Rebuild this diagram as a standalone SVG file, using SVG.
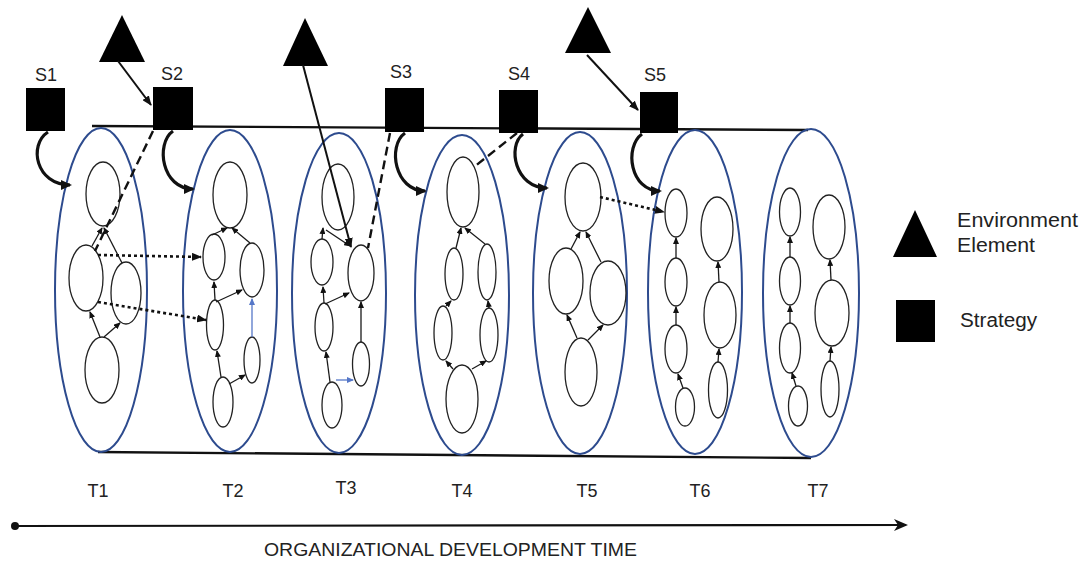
<svg xmlns="http://www.w3.org/2000/svg" width="1088" height="564" viewBox="0 0 1088 564">
  <style>
    .frame { fill: none; stroke: #2d4b8e; stroke-width: 2; }
    .node { fill: none; stroke: #222; stroke-width: 1.3; }
    .link { fill: none; stroke: #1a1a1a; stroke-width: 1.3; marker-end: url(#tip); }
    .blue { fill: none; stroke: #5577c8; stroke-width: 1.3; marker-end: url(#tipBlue); }
    .dot { fill: none; stroke: #111; stroke-width: 2.6; stroke-dasharray: 3 3; marker-end: url(#tipMid); }
    .dash { fill: none; stroke: #111; stroke-width: 2.4; stroke-dasharray: 9 5; }
    .hook { fill: none; stroke: #111; stroke-width: 3.2; marker-end: url(#tipBig); }
    .env { fill: none; stroke: #111; stroke-width: 2; marker-end: url(#tipMid); }
    .rim { fill: none; stroke: #111; stroke-width: 2.4; }
    .lbl { font-family: "Liberation Sans", Arial, sans-serif; fill: #222; }
    .blk { fill: #000; }
  </style>
  <defs>
    <marker id="tip" markerUnits="userSpaceOnUse" markerWidth="7" markerHeight="6" refX="6" refY="3" orient="auto">
      <path d="M0,0 L7,3 L0,6 z" fill="#111"/>
    </marker>
    <marker id="tipBlue" markerUnits="userSpaceOnUse" markerWidth="7" markerHeight="6" refX="6" refY="3" orient="auto">
      <path d="M0,0 L7,3 L0,6 z" fill="#5577c8"/>
    </marker>
    <marker id="tipMid" markerUnits="userSpaceOnUse" markerWidth="10" markerHeight="8" refX="9" refY="4" orient="auto">
      <path d="M0,0 L10,4 L0,8 z" fill="#111"/>
    </marker>
    <marker id="tipBig" markerUnits="userSpaceOnUse" markerWidth="11" markerHeight="10" refX="9" refY="5" orient="auto">
      <path d="M0,0 L11,5 L0,10 z" fill="#111"/>
    </marker>
    <marker id="axisTip" markerUnits="userSpaceOnUse" markerWidth="14" markerHeight="12" refX="12" refY="6" orient="auto">
      <path d="M0,0 L14,6 L0,12 L4,6 z" fill="#111"/>
    </marker>
  </defs>

  <!-- cylinder rims -->
  <g id="cylinder">
    <line class="rim" x1="92" y1="126" x2="808" y2="130"/>
    <line class="rim" x1="98" y1="452" x2="811" y2="458"/>
  </g>

  <!-- time slices -->
  <g id="T1">
    <ellipse class="frame" cx="101" cy="290" rx="46" ry="162"/>
    <ellipse class="node" cx="103" cy="194" rx="17" ry="32"/>
    <ellipse class="node" cx="86" cy="278" rx="17" ry="33"/>
    <ellipse class="node" cx="126" cy="293" rx="15" ry="31"/>
    <ellipse class="node" cx="102" cy="370" rx="17" ry="33"/>
    <text class="lbl" x="98" y="497" font-size="18" text-anchor="middle">T1</text>
  </g>
  <g id="T2">
    <ellipse class="frame" cx="230" cy="291" rx="47" ry="161"/>
    <ellipse class="node" cx="230" cy="195" rx="17" ry="33"/>
    <ellipse class="node" cx="214" cy="257" rx="11" ry="23"/>
    <ellipse class="node" cx="252" cy="270" rx="12" ry="27"/>
    <ellipse class="node" cx="215" cy="325" rx="8.5" ry="25"/>
    <ellipse class="node" cx="252" cy="360" rx="8" ry="23"/>
    <ellipse class="node" cx="223" cy="402" rx="10" ry="25"/>
    <text class="lbl" x="233" y="497" font-size="18" text-anchor="middle">T2</text>
  </g>
  <g id="T3">
    <ellipse class="frame" cx="339" cy="293" rx="47" ry="160"/>
    <ellipse class="node" cx="338" cy="197" rx="16" ry="33"/>
    <ellipse class="node" cx="322" cy="262" rx="11" ry="23"/>
    <ellipse class="node" cx="361" cy="273" rx="13" ry="28"/>
    <ellipse class="node" cx="324" cy="327" rx="9" ry="24"/>
    <ellipse class="node" cx="361" cy="364" rx="8.5" ry="22"/>
    <ellipse class="node" cx="332" cy="405" rx="10" ry="23"/>
    <text class="lbl" x="346" y="494" font-size="18" text-anchor="middle">T3</text>
  </g>
  <g id="T4">
    <ellipse class="frame" cx="462" cy="295" rx="47" ry="160"/>
    <ellipse class="node" cx="463" cy="192" rx="16" ry="35"/>
    <ellipse class="node" cx="454" cy="274" rx="9" ry="26"/>
    <ellipse class="node" cx="487" cy="272" rx="9" ry="28"/>
    <ellipse class="node" cx="443" cy="333" rx="9" ry="27"/>
    <ellipse class="node" cx="489" cy="335" rx="9" ry="27"/>
    <ellipse class="node" cx="462" cy="399" rx="16" ry="34"/>
    <text class="lbl" x="462" y="497" font-size="18" text-anchor="middle">T4</text>
  </g>
  <g id="T5">
    <ellipse class="frame" cx="580" cy="293" rx="47" ry="161"/>
    <ellipse class="node" cx="583" cy="197" rx="18" ry="34"/>
    <ellipse class="node" cx="566" cy="281" rx="17" ry="33"/>
    <ellipse class="node" cx="608" cy="293" rx="18" ry="32"/>
    <ellipse class="node" cx="581" cy="372" rx="16" ry="34"/>
    <text class="lbl" x="587" y="497" font-size="18" text-anchor="middle">T5</text>
  </g>
  <g id="T6">
    <ellipse class="frame" cx="695" cy="292" rx="47" ry="162"/>
    <ellipse class="node" cx="676" cy="213" rx="11" ry="24"/>
    <ellipse class="node" cx="676" cy="282" rx="11" ry="24"/>
    <ellipse class="node" cx="676" cy="349" rx="11" ry="24"/>
    <ellipse class="node" cx="685" cy="407" rx="9.5" ry="19"/>
    <ellipse class="node" cx="717" cy="229" rx="16" ry="32"/>
    <ellipse class="node" cx="720" cy="315" rx="16" ry="33"/>
    <ellipse class="node" cx="718" cy="390" rx="9.5" ry="28"/>
    <text class="lbl" x="700" y="497" font-size="18" text-anchor="middle">T6</text>
  </g>
  <g id="T7">
    <ellipse class="frame" cx="811" cy="293" rx="48" ry="164"/>
    <ellipse class="node" cx="790" cy="212" rx="10.5" ry="24"/>
    <ellipse class="node" cx="790" cy="281" rx="10.5" ry="24"/>
    <ellipse class="node" cx="790" cy="348" rx="10.5" ry="25"/>
    <ellipse class="node" cx="798" cy="406" rx="9.5" ry="20"/>
    <ellipse class="node" cx="829" cy="227" rx="16" ry="32"/>
    <ellipse class="node" cx="832" cy="313" rx="17" ry="33"/>
    <ellipse class="node" cx="830" cy="389" rx="9" ry="28"/>
    <text class="lbl" x="818" y="497" font-size="18" text-anchor="middle">T7</text>
  </g>

  <!-- strategies -->
  <g id="S1">
    <rect class="blk" x="26" y="88" width="39" height="43"/>
    <text class="lbl" x="46" y="81" font-size="18" text-anchor="middle">S1</text>
  </g>
  <g id="S2">
    <rect class="blk" x="153" y="87" width="40" height="43"/>
    <text class="lbl" x="172" y="80" font-size="18" text-anchor="middle">S2</text>
  </g>
  <g id="S3">
    <rect class="blk" x="385" y="88" width="39" height="44"/>
    <text class="lbl" x="401" y="78" font-size="18" text-anchor="middle">S3</text>
  </g>
  <g id="S4">
    <rect class="blk" x="499" y="90" width="39" height="43"/>
    <text class="lbl" x="519" y="80" font-size="18" text-anchor="middle">S4</text>
  </g>
  <g id="S5">
    <rect class="blk" x="640" y="92" width="38" height="41"/>
    <text class="lbl" x="655" y="81" font-size="18" text-anchor="middle">S5</text>
  </g>

  <!-- environment elements -->
  <g id="E1"><polygon class="blk" points="122,15 99,62 145,62"/></g>
  <g id="E2"><polygon class="blk" points="305,18 283,66 328,66"/></g>
  <g id="E3"><polygon class="blk" points="588,7 565,53 611,53"/></g>

  <!-- legend -->
  <g id="legend">
    <polygon class="blk" points="915,210 893,257 937,257"/>
    <rect class="blk" x="896" y="300" width="39" height="42"/>
    <text class="lbl" x="957" y="227" font-size="20" textLength="121" lengthAdjust="spacingAndGlyphs">Environment</text>
    <text class="lbl" x="957" y="252" font-size="20" textLength="78" lengthAdjust="spacingAndGlyphs">Element</text>
    <text class="lbl" x="960" y="327" font-size="20" textLength="77" lengthAdjust="spacingAndGlyphs">Strategy</text>
  </g>

  <!-- time axis -->
  <g id="axis">
    <circle cx="15" cy="526" r="4" fill="#111"/>
    <line x1="15" y1="526" x2="906" y2="525" stroke="#111" stroke-width="2.2" marker-end="url(#axisTip)"/>
    <text class="lbl" x="264" y="556" font-size="18" textLength="373" lengthAdjust="spacingAndGlyphs">ORGANIZATIONAL DEVELOPMENT TIME</text>
  </g>

  <!-- connectors -->
  <g id="connectors">
    <!-- strategy hooks into the next slice -->
    <path class="hook" d="M48,132 C28,145 36,185 70,185"/>
    <path class="hook" d="M173,131 C155,144 162,189 193,189"/>
    <path class="hook" d="M405,133 C387,146 395,191 425,191"/>
    <path class="hook" d="M523,134 C507,146 515,188 547,188"/>
    <path class="hook" d="M642,134 C624,147 630,191 660,191"/>

    <!-- environment influences -->
    <line class="env" x1="118" y1="61" x2="151" y2="105"/>
    <line class="env" x1="303" y1="65" x2="351" y2="247"/>
    <line class="env" x1="587" y1="55" x2="638" y2="110"/>

    <!-- strategy to node, dashed -->
    <line class="dash" x1="153" y1="131" x2="95" y2="251"/>
    <line class="dash" x1="390" y1="133" x2="368" y2="248"/>
    <line class="dash" x1="517" y1="133" x2="474" y2="167"/>

    <!-- carried-over nodes, dotted -->
    <line class="dot" x1="98" y1="255" x2="201" y2="257"/>
    <line class="dot" x1="98" y1="302" x2="206" y2="320"/>
    <line class="dot" x1="600" y1="197" x2="664" y2="212"/>

    <!-- T1 links -->
    <line class="link" x1="92" y1="246" x2="102" y2="228"/>
    <line class="link" x1="122" y1="263" x2="104" y2="228"/>
    <line class="link" x1="100" y1="337" x2="90" y2="312"/>
    <line class="link" x1="104" y1="337" x2="120" y2="323"/>

    <!-- T2 links -->
    <line class="link" x1="212" y1="235" x2="227" y2="228"/>
    <line class="link" x1="250" y1="243" x2="232" y2="228"/>
    <line class="link" x1="215" y1="300" x2="214" y2="282"/>
    <line class="link" x1="216" y1="302" x2="242" y2="290"/>
    <line class="blue" x1="252" y1="337" x2="252" y2="299"/>
    <line class="link" x1="221" y1="377" x2="217" y2="351"/>
    <line class="link" x1="229" y1="384" x2="245" y2="375"/>

    <!-- T3 links -->
    <line class="link" x1="322" y1="239" x2="323" y2="228"/>
    <line class="link" x1="326" y1="230" x2="350" y2="246"/>
    <line class="link" x1="324" y1="303" x2="323" y2="287"/>
    <line class="link" x1="325" y1="304" x2="349" y2="293"/>
    <line class="link" x1="361" y1="342" x2="361" y2="302"/>
    <line class="link" x1="330" y1="382" x2="326" y2="352"/>
    <line class="blue" x1="336" y1="380" x2="353" y2="380"/>

    <!-- T4 links -->
    <line class="link" x1="456" y1="248" x2="461" y2="228"/>
    <line class="link" x1="485" y1="244" x2="465" y2="228"/>
    <line class="link" x1="446" y1="306" x2="451" y2="301"/>
    <line class="link" x1="489" y1="308" x2="488" y2="301"/>
    <line class="link" x1="453" y1="369" x2="446" y2="361"/>
    <line class="link" x1="472" y1="369" x2="486" y2="361"/>

    <!-- T5 links -->
    <line class="link" x1="571" y1="249" x2="580" y2="232"/>
    <line class="link" x1="601" y1="262" x2="586" y2="232"/>
    <line class="link" x1="577" y1="338" x2="567" y2="315"/>
    <line class="link" x1="588" y1="340" x2="603" y2="325"/>

    <!-- T6 links -->
    <line class="link" x1="676" y1="258" x2="676" y2="238"/>
    <line class="link" x1="676" y1="325" x2="676" y2="307"/>
    <line class="link" x1="683" y1="388" x2="678" y2="374"/>
    <line class="link" x1="719" y1="282" x2="718" y2="262"/>
    <line class="link" x1="718" y1="362" x2="719" y2="349"/>

    <!-- T7 links -->
    <line class="link" x1="790" y1="257" x2="790" y2="237"/>
    <line class="link" x1="790" y1="323" x2="790" y2="306"/>
    <line class="link" x1="796" y1="386" x2="792" y2="373"/>
    <line class="link" x1="831" y1="280" x2="830" y2="260"/>
    <line class="link" x1="830" y1="361" x2="831" y2="347"/>
  </g>
</svg>
